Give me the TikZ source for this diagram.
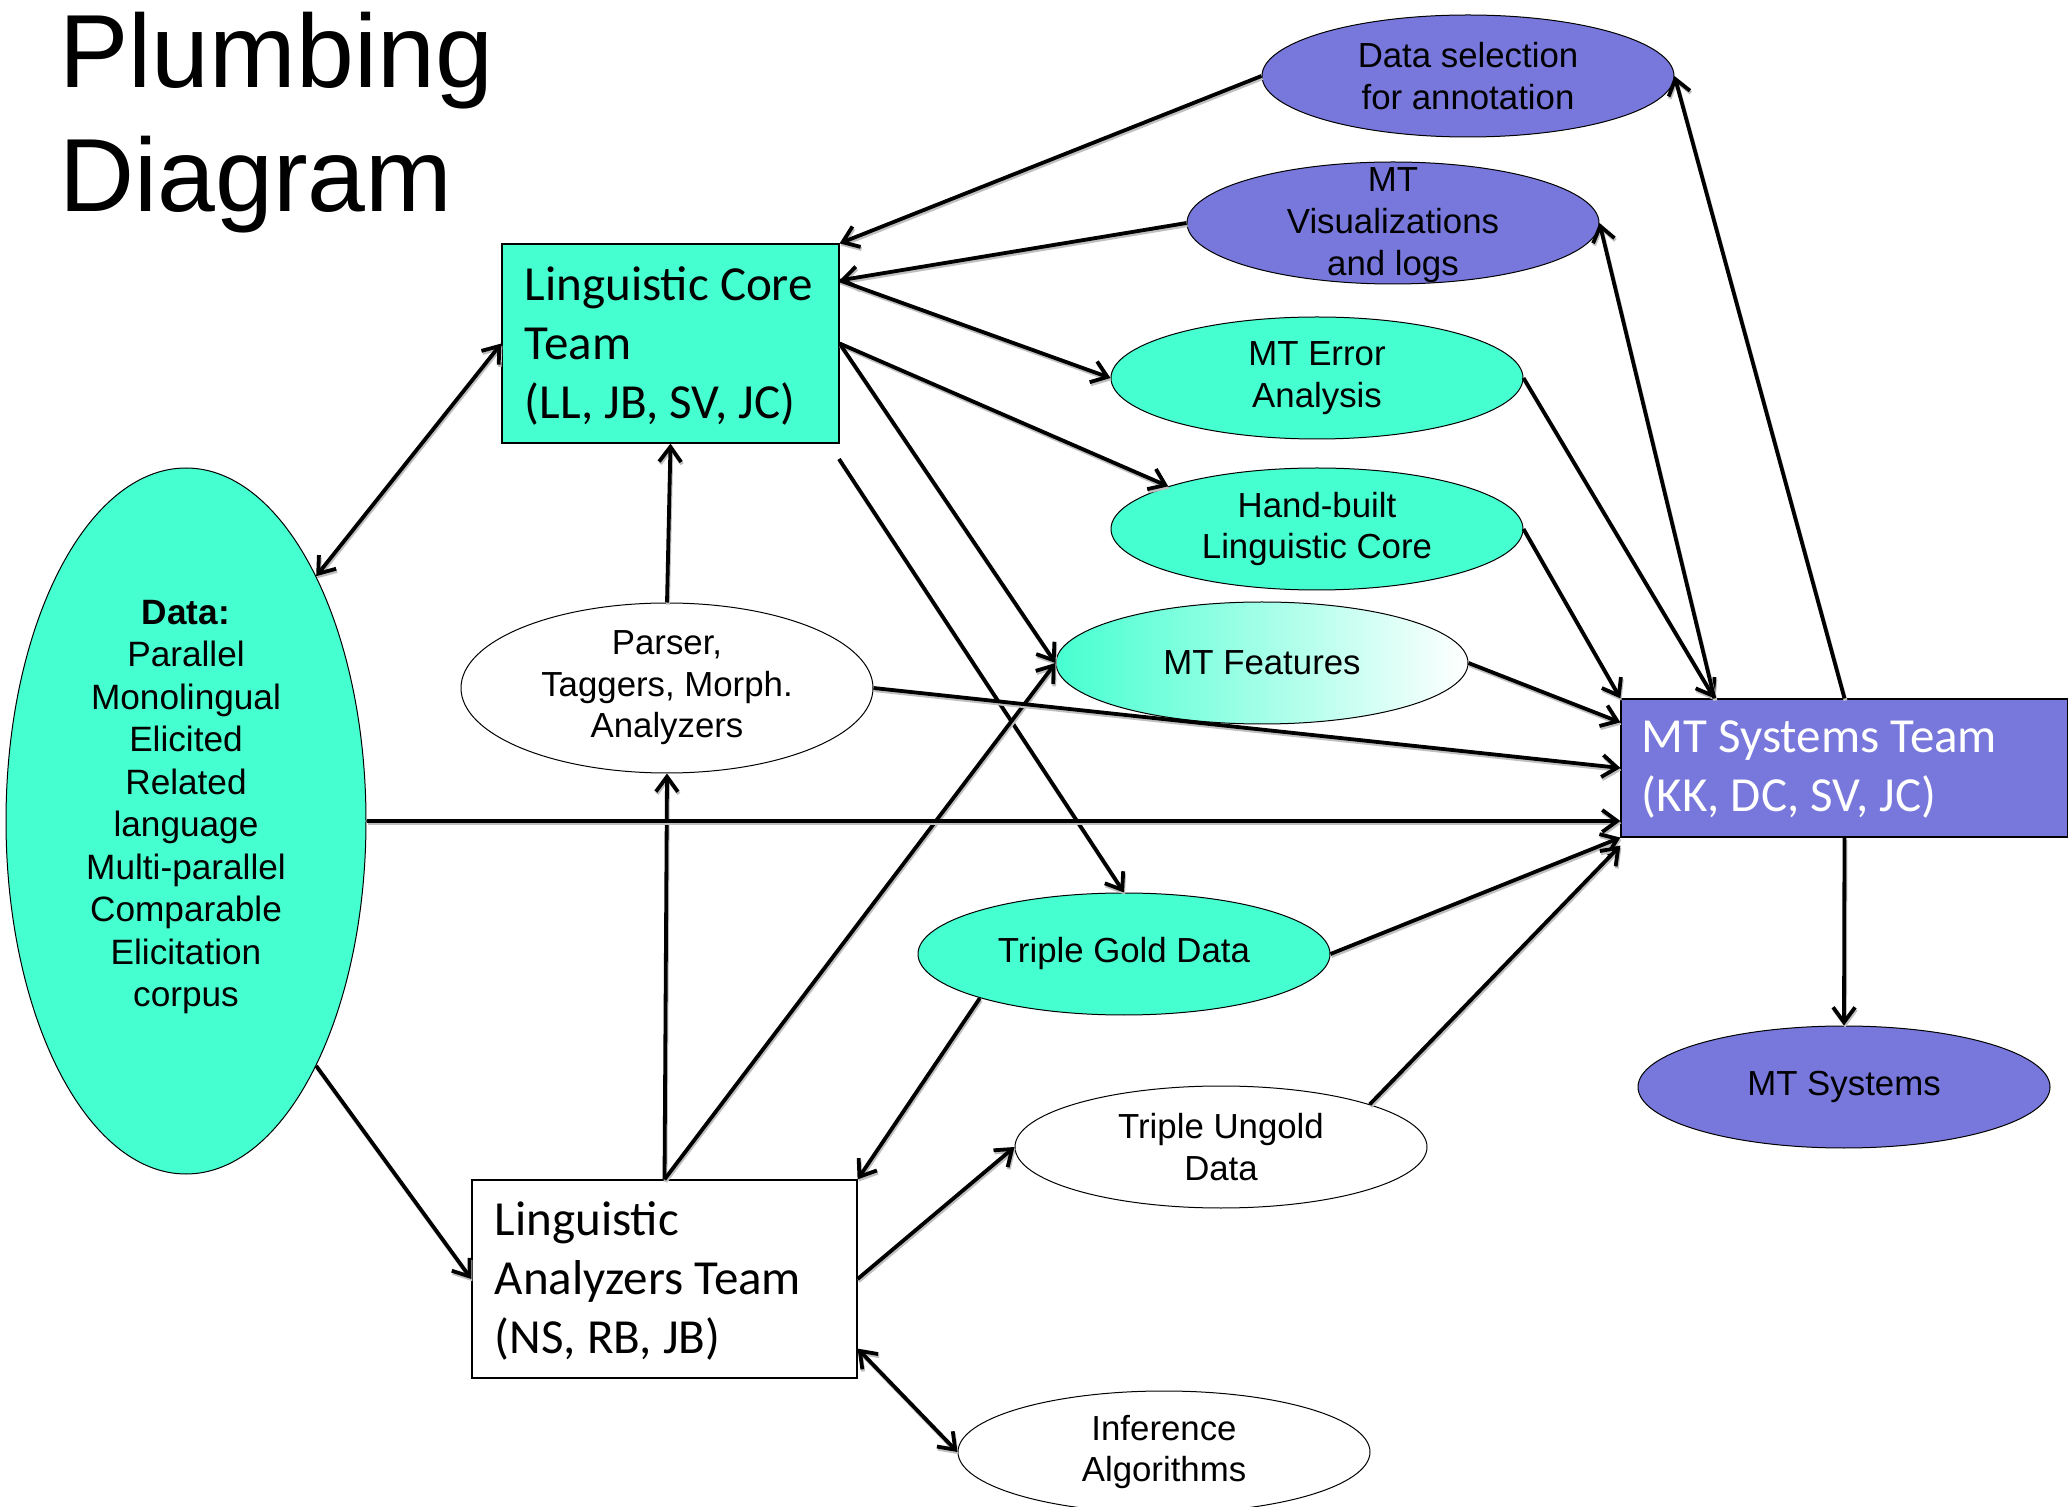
\documentclass[tikz,border=0pt]{standalone}
\usepackage{fontspec}
\setmainfont{Liberation Sans}
\newfontfamily\boxfont{Carlito}
\usetikzlibrary{shapes.geometric,arrows.meta,calc}
\definecolor{tq}{RGB}{70,255,208}
\definecolor{pur}{RGB}{120,120,220}
\begin{document}
\begin{tikzpicture}[x=0.5pt,y=-0.5pt,
  ell/.style={ellipse, draw=black, line width=0.5pt, inner sep=0pt,
    minimum width=206pt, minimum height=61pt, align=center,
    font=\fontsize{17.4}{20.8}\selectfont},
  teambox/.style={rectangle, draw=black, line width=0.6pt, inner sep=0pt},
  boxtext/.style={inner sep=0pt, align=left, anchor=west,
    font=\boxfont\fontsize{24.5}{29.5}\selectfont},
  tipbarb/.tip={Straight Barb[length=7.5pt,width=11pt]},
  conn/.style={line width=1.9pt, -tipbarb,
    preaction={draw=gray!50, line width=1.9pt,
      transform canvas={shift={(0.5pt,-1.1pt)}}}},
  bconn/.style={conn, tipbarb-tipbarb}
]
\useasboundingbox (0,0) rectangle (2068,1507);

% title
\node[inner sep=0pt, anchor=base west, font=\fontsize{52}{62}\selectfont] (title1) at (59,88) {Plumbing};
\node[inner sep=0pt, anchor=base west, font=\fontsize{52}{62}\selectfont] (title2) at (59,212) {Diagram};

% team boxes
\node[teambox, fill=tq, minimum width=168.5pt, minimum height=99.5pt] (lct) at (670.5,343.5) {};
\node[boxtext] (lcttxt) at ($(lct.west)+(23,2)$) {Linguistic Core\\Team\\(LL, JB, SV, JC)};

\node[teambox, fill=pur, minimum width=223.5pt, minimum height=69pt] (mts) at (1844.5,768) {};
\node[boxtext, text=white] (mtstxt) at ($(mts.west)+(21,2)$) {MT Systems Team\\(KK, DC, SV, JC)};

\node[teambox, fill=white, minimum width=192.5pt, minimum height=99pt] (lat) at (664.5,1279) {};
\node[boxtext] (lattxt) at ($(lat.west)+(23,2)$) {Linguistic\\Analyzers Team\\(NS, RB, JB)};

% data ellipse
\node[ellipse, draw=black, line width=0.5pt, fill=tq, inner sep=0pt,
  minimum width=180pt, minimum height=353pt] (data) at (186,821) {};
\node[align=center, inner sep=0pt, font=\fontsize{17.6}{21.25}\selectfont] (datatxt)
  at ($(data.center)+(0,-14)$)
  {\textbf{Data:}\\Parallel\\Monolingual\\Elicited\\Related\\language\\Multi-parallel\\Comparable\\Elicitation\\corpus};

% ellipses
\node[ell, fill=pur] (ds) at (1468,76) {Data selection\\for annotation};
\node[ell, fill=pur] (mtv) at (1393,223) {};
\node[align=center, inner sep=0pt, font=\fontsize{17.4}{21}\selectfont] (mtvtxt) at ($(mtv.center)+(0,2)$) {MT\\Visualizations\\and logs};
\node[ell, fill=tq] (mte) at (1317,378) {MT Error\\Analysis};
\node[ell, fill=tq] (hb) at (1317,529) {Hand-built\\Linguistic Core};
\node[ell, left color=tq, right color=white] (mtf) at (1262,663) {MT Features};
\node[ell, fill=white, minimum height=85pt] (parser) at (667,688) {Parser,\\Taggers, Morph.\\Analyzers};
\node[ell, fill=tq] (tg) at (1124,954) {Triple Gold Data};
\node[ell, fill=white] (tu) at (1221,1147) {Triple Ungold\\Data};
\node[ell, fill=pur] (mtsys) at (1844,1087) {MT Systems};
\node[ell, fill=white] (inf) at (1164,1452) {Inference\\Algorithms};

\coordinate (lctA) at ($(lct.north east)+(0,37)$);
\coordinate (tgstart) at (839,459);
\coordinate (mtsA) at ($(mts.north west)+(94,0)$);

% connectors
\draw[conn] (ds.west) -- (lct.north east);
\draw[conn] (mtv.west) -- (lctA);
\draw[conn] (lctA) -- (mte.west);
\draw[conn] (lct.east) -- (hb.164);
\draw[conn] (lct.east) -- (mtf.west);
\draw[conn] (tgstart) -- (tg.north);
\draw[bconn] (data.62) -- (lct.west);
\draw[conn] (parser.north) -- (lct.south);
\draw[conn] (lat.north) -- (parser.south);
\draw[conn] (lat.north) -- (mtf.west);
\draw[conn] (parser.east) -- (mts.west);
\draw[conn] (data.east) -- (data.east -| mts.west);
\draw[conn] (mtf.east) -- ($(mts.north west)+(0,24)$);
\draw[conn] (hb.east) -- (mts.north west);
\draw[conn] (mte.east) -- (mtsA);
\draw[conn] (mtsA) -- (mtv.east);
\draw[conn] (mts.north) -- (ds.east);
\draw[conn] (mts.south) -- (mtsys.north);
\draw[conn] (tg.east) -- (mts.south west);
\draw[conn] (tu.16) -- ($(mts.south west)+(0,8)$);
\draw[conn] (tg.197) -- (lat.north east);
\draw[conn] (lat.east) -- (tu.west);
\draw[bconn] ($(lat.south east)+(0,-30)$) -- (inf.west);
\draw[conn] (data.-62) -- (lat.west);
\end{tikzpicture}
\end{document}
